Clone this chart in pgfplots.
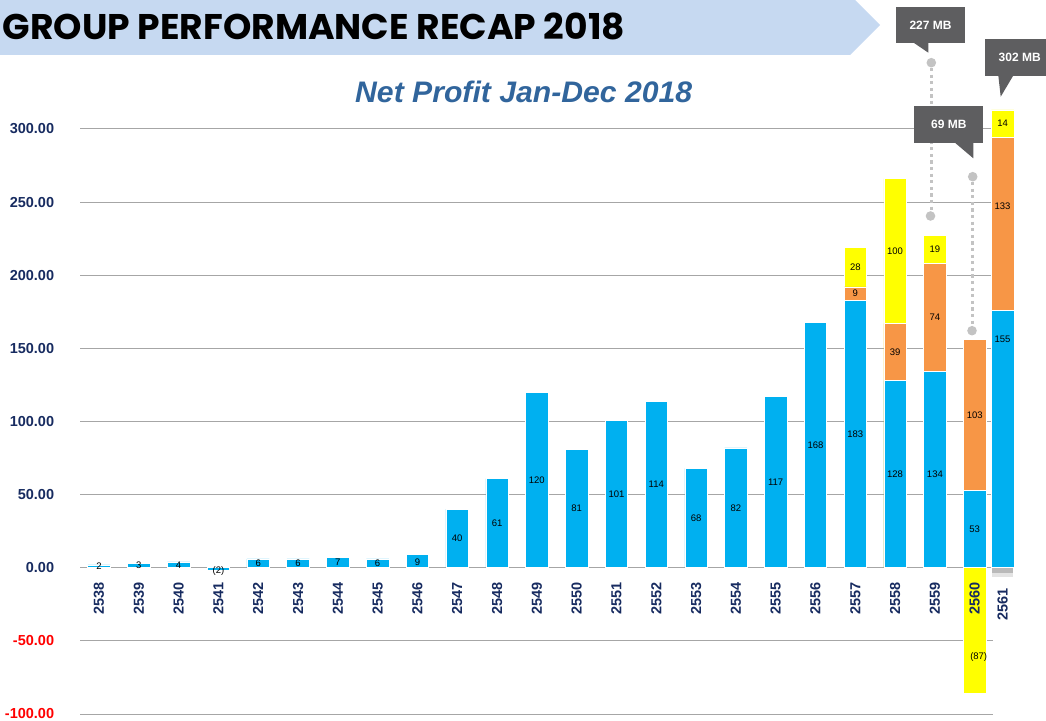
\documentclass[border=0pt]{standalone}
\usepackage{fontspec}
\setmainfont{Liberation Sans}
\newfontfamily\gothic{Poppins}
\usepackage{graphicx}
\usepackage{pgfplots}
\pgfplotsset{compat=1.18}
\definecolor{cblue}{HTML}{00B0F0}
\definecolor{corange}{HTML}{F79646}
\definecolor{cyellow}{HTML}{FFFF00}
\definecolor{banner}{HTML}{C6D9F1}
\definecolor{navy}{RGB}{23,43,96}
\definecolor{ttl}{RGB}{49,101,156}
\definecolor{gridgray}{HTML}{A6A6A6}
\definecolor{callout}{HTML}{5E5E60}
\definecolor{circgray}{HTML}{C3C3C3}
\pgfplotsset{myaxis/.style={
  at={(99pt,152.25pt)}, anchor=origin, scale only axis,
  height=585pt,
  xmin=-0.477, ymin=-100, ymax=300,
  clip=false,
  axis x line=middle, axis y line=left,
  y axis line style={draw=none},
  hide obscured x ticks=false, hide obscured y ticks=false,
  major tick length=0pt, tick style={draw=none},
  ytick={-100,-50,0,50,100,150,200,250,300},
  xtick={0,1,2,3,4,5,6,7,8,9,10,11,12,13,14,15,16,17,18,19,20,21,22,22.70},
}}
\begin{document}
\begin{tikzpicture}[x=1pt,y=1pt]
\useasboundingbox (0,0) rectangle (1046,720);
\clip (0,0) rectangle (1046,720);
% banner
\fill[banner] (0,720) -- (855,720) -- (880,695) -- (850,665) -- (0,665) -- cycle;
\node[anchor=base west, inner sep=0pt] at (2.7,680.7) {\resizebox{622pt}{26.6pt}{\gothic\bfseries GROUP PERFORMANCE RECAP 2018}};
\node[anchor=base west, inner sep=0pt, text=ttl] at (355,617) {\resizebox{337pt}{21.5pt}{\bfseries\itshape Net Profit Jan-Dec 2018}};
\begin{axis}[
  myaxis, width=913pt, xmax=22.46,
  x axis line style={-, draw=gridgray, line width=1pt},
  ymajorgrids, grid style={gridgray, line width=1pt},
  yticklabels={\textcolor{red}{-100.00},\textcolor{red}{-50.00},0.00,50.00,100.00,150.00,200.00,250.00,300.00},
  yticklabel style={font=\fontsize{14.5}{15}\selectfont\bfseries, text=navy, anchor=east, inner sep=0pt, xshift=-25.7pt},
  xticklabels={},
]
% shadow under 2561
\addplot[ybar, bar width=21pt, bar shift=0pt, draw=none, fill=gray!22]
  coordinates {(22.70,-6.5)};
\addplot[ybar, bar width=21pt, bar shift=0pt, draw=none, fill=gray!55]
  coordinates {(22.70,-3.5)};
% yellow totals
\addplot[ybar, bar width=22.5pt, bar shift=0pt, fill=cyellow, draw=white, line width=0.6pt]
  coordinates {(19,219) (20,266) (21,227) (22,-86) (22.70,313)};
% orange totals
\addplot[ybar, bar width=22.5pt, bar shift=0pt, fill=corange, draw=white, line width=0.6pt]
  coordinates {(19,192) (20,167) (21,208) (22,156) (22.70,294)};
% blue
\addplot[ybar, bar width=22.5pt, bar shift=0pt, fill=cblue, draw=white, line width=0.6pt]
  coordinates {(0,2) (1,3) (2,4) (3,-2) (4,6) (5,6) (6,7) (7,6) (8,9) (9,40) (10,61) (11,120)
  (12,81) (13,101) (14,114) (15,68) (16,82) (17,117) (18,168) (19,183) (20,128) (21,134) (22,53) (22.70,176)};
% labels
\addplot[draw=none, mark=none, nodes near coords, point meta=explicit symbolic,
  every node near coord/.append style={anchor=center, inner sep=0pt, font=\fontsize{9.5}{10}\selectfont, text=black}]
  coordinates {(0,1)[2] (1,1.5)[3] (2,2)[4] (3,-2)[(2)] (4,3)[6] (5,3)[6] (6,3.5)[7] (7,3)[6] (8,4)[9]
  (9,20)[40] (10,30.5)[61] (11,60)[120] (12,40.5)[81] (13,50.5)[101] (14,57)[114] (15,34)[68]
  (16,41)[82] (17,58.5)[117] (18,84)[168] (19,91.5)[183] (20,64)[128] (21,64)[134] (22,26.5)[53]
  (22.70,156.5)[155]
  (19,187.5)[9] (20,147.5)[39] (21,171)[74] (22,104)[103] (22.70,247)[133]
  (19,205.5)[28] (20,216.5)[100] (21,217.5)[19] (22.1,-61)[(87)] (22.70,304)[14]};
\end{axis}
% second axis, same scale: x tick labels on top of the bars
\begin{axis}[
  myaxis, width=934.5pt, xmax=23,
  x axis line style={draw=none},
  yticklabels={},
  xticklabels={2538,2539,2540,2541,2542,2543,2544,2545,2546,2547,2548,2549,2550,2551,2552,2553,2554,2555,2556,2557,2558,2559,2560,2561\hspace*{6pt}},
  xticklabel style={yshift=-14pt, rotate=90, anchor=east, inner sep=0pt, font=\fontsize{14.5}{15}\selectfont\bfseries, text=navy},
]
\end{axis}
% 227 MB callout
\draw[circgray, line width=3pt, dash pattern=on 3.3pt off 3.3pt] (931,652) -- (931,509);
\fill[circgray] (931.3,657.3) circle (4.8);
\fill[circgray] (930.5,504) circle (4.8);
\fill[callout] (896,677) rectangle (965,713);
\fill[callout] (913.3,677.5) -- (928.3,677.5) -- (928.3,667.3) -- cycle;
\node[text=white, font=\fontsize{12}{12}\selectfont\bfseries] at (930.5,695) {227 MB};
% 69 MB callout
\draw[circgray, line width=3pt, dash pattern=on 3.3pt off 3.3pt] (972.5,538) -- (972.5,394);
\fill[circgray] (972.7,543.3) circle (4.8);
\fill[circgray] (972,389.3) circle (4.8);
\fill[callout] (914.3,576.7) rectangle (983.3,614);
\fill[callout] (955,577.2) -- (973.3,577.2) -- (973.3,561.7) -- cycle;
\node[text=white, font=\fontsize{12}{12}\selectfont\bfseries] at (948.8,595.3) {69 MB};
% 302 MB callout
\fill[callout] (985,644) rectangle (1055,681);
\fill[callout] (998.3,644.5) -- (1013.3,644.5) -- (1000.7,623.3) -- cycle;
\node[text=white, font=\fontsize{12}{12}\selectfont\bfseries] at (1019.7,662.5) {302 MB};
\end{tikzpicture}
\end{document}
